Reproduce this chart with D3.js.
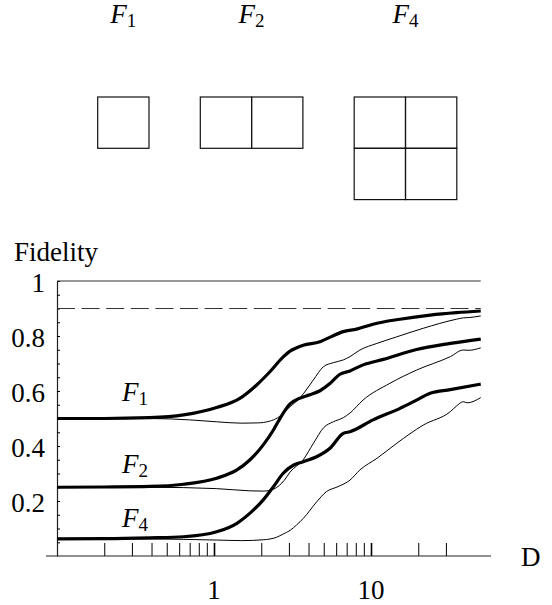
<!DOCTYPE html>
<html>
<head>
<meta charset="utf-8">
<script src="https://cdn.jsdelivr.net/npm/d3@7"></script>
<style>
  body { margin: 0; background: #fff; }
</style>
</head>
<body>
<div id="chart"></div>
<script>
// fidelity vs D, thick = upper curve, thin = lower curve for each block size
var f1Thick = [[0.1,0.5],[0.2,0.5],[0.39,0.503],[0.64,0.513],[1.04,0.54],[1.46,0.573],[1.87,0.622],[2.27,0.67],[2.76,0.724],[3.05,0.745],[3.36,0.757],[3.7,0.766],[4.73,0.779],[5.5,0.796],[6.66,0.816],[8.1,0.825],[10.3,0.843],[15.3,0.861],[23.8,0.876],[35,0.885],[50,0.891]];
var f1Thin = [[0.1,0.5],[0.39,0.5],[0.7,0.495],[1.04,0.488],[1.5,0.483],[1.9,0.484],[2.25,0.49],[2.55,0.503],[3.05,0.543],[3.5,0.573],[3.71,0.59],[4.29,0.64],[4.97,0.688],[5.75,0.703],[6.66,0.713],[7.35,0.725],[8.5,0.749],[10.9,0.773],[14.6,0.797],[21.5,0.828],[35,0.861],[38.7,0.866],[42,0.867],[50,0.873]];
var f2Thick = [[0.1,0.25],[0.2,0.251],[0.39,0.253],[0.64,0.261],[1.04,0.283],[1.4,0.313],[1.69,0.349],[2.06,0.404],[2.39,0.458],[2.57,0.49],[3.05,0.553],[3.5,0.573],[4.0,0.585],[4.7,0.6],[5.5,0.628],[6.3,0.66],[7.35,0.673],[8.9,0.695],[12,0.715],[19.5,0.751],[32,0.773],[50,0.789]];
var f2Thin = [[0.1,0.25],[0.39,0.25],[1.04,0.245],[1.69,0.237],[2.06,0.236],[2.39,0.243],[2.6,0.256],[2.8,0.275],[3.05,0.305],[3.7,0.35],[4.3,0.41],[5.0,0.467],[5.75,0.488],[6.66,0.503],[7.35,0.52],[8.9,0.567],[13.2,0.628],[19.5,0.676],[32,0.725],[38.7,0.749],[42,0.748],[50,0.757]];
var f4Thick = [[0.1,0.0625],[0.2,0.063],[0.39,0.066],[0.64,0.07],[1.04,0.088],[1.4,0.119],[1.69,0.155],[2.06,0.204],[2.39,0.252],[2.76,0.301],[3.2,0.33],[3.7,0.343],[4.5,0.361],[5.48,0.392],[6.66,0.446],[7.35,0.452],[10.3,0.495],[15.3,0.537],[19.5,0.567],[23.8,0.592],[32,0.605],[50,0.625]];
var f4Thin = [[0.1,0.0625],[0.39,0.062],[1.04,0.058],[1.5,0.056],[2.06,0.059],[2.5,0.068],[2.76,0.08],[3.05,0.093],[3.36,0.113],[3.71,0.137],[4.51,0.197],[5.2,0.234],[6.15,0.252],[7.35,0.276],[8.5,0.313],[10.9,0.355],[14.6,0.41],[21.5,0.476],[32,0.525],[35,0.545],[38.7,0.561],[41,0.557],[50,0.576]];

var xTicks = [0.2,0.3,0.4,0.5,0.6,0.7,0.8,0.9,1,2,3,4,5,6,7,8,9,10,20,30];
var xLabels = [1, 10];
var yTicks = d3.range(1, 21).map(function (i) { return i / 20; });
var yLabels = [0.2, 0.4, 0.6, 0.8, 1];
var refLines = [1, 0.9];

// block diagrams on top: subscript, columns, rows
var blockNames = ['1', '2', '4'];
var blockCols = [1, 2, 2];
var blockRows = [1, 1, 2];

var W = 552, H = 605;
var FONT = "'Liberation Serif'";
var svg = d3.select('#chart').append('svg')
  .attr('width', W)
  .attr('height', H);

var x = d3.scaleLog().domain([0.1, 50]).range([57, 57 + Math.log10(500) * 157]);
var y = d3.scaleLinear().domain([0, 1]).range([556, 281]);

function subLabel(px, py, name) {
  var t = svg.append('text')
    .attr('x', px)
    .attr('y', py)
    .attr('text-anchor', 'middle')
    .attr('font-family', FONT)
    .attr('font-size', 27);
  t.append('tspan').attr('font-style', 'italic').text('F');
  t.append('tspan').attr('dy', 4).attr('font-size', 19).text(name);
  return t;
}

// --- block diagrams
var cell = 51.3, bx = 97.7, by = 97;
blockNames.forEach(function (name, i) {
  var g = svg.append('g').attr('transform', 'translate(' + bx + ',' + by + ')');
  for (var r = 0; r < blockRows[i]; r++) {
    for (var c = 0; c < blockCols[i]; c++) {
      g.append('rect')
        .attr('x', c * cell)
        .attr('y', r * cell)
        .attr('width', cell)
        .attr('height', cell)
        .attr('fill', 'none')
        .attr('stroke', '#111')
        .attr('stroke-width', 1.2);
    }
  }
  subLabel(bx + blockCols[i] * cell / 2, 22.7, name);
  bx += (blockCols[i] + 1) * cell;
});

// --- axes
var xAxis = d3.axisTop(x).tickValues(xTicks).tickSize(13).tickFormat('');
var gx = svg.append('g').attr('transform', 'translate(0,556)').call(xAxis);
gx.select('.domain').remove();
gx.selectAll('.tick line')
  .attr('stroke', '#000')
  .attr('stroke-width', function (d) { return (d === 1 || d === 10) ? 1.6 : 1; });

svg.append('line')
  .attr('x1', 46).attr('x2', 491)
  .attr('y1', 556).attr('y2', 556)
  .attr('stroke', '#222').attr('stroke-width', 1.2);

var yAxis = d3.axisRight(y).tickValues(yTicks).tickSize(3).tickSizeOuter(0).tickFormat('');
var gy = svg.append('g').attr('transform', 'translate(57,0)').call(yAxis);
gy.select('.domain').attr('stroke', '#222').attr('stroke-width', 1.2);

svg.selectAll('text.xl')
  .data(xLabels)
  .enter().append('text')
  .attr('class', 'xl')
  .attr('x', function (d) { return x(d); })
  .attr('y', 599)
  .attr('text-anchor', 'middle')
  .attr('font-family', FONT)
  .attr('font-size', 27)
  .text(function (d) { return d; });

svg.selectAll('text.yl')
  .data(yLabels)
  .enter().append('text')
  .attr('class', 'yl')
  .attr('x', 45)
  .attr('y', function (d) { return y(d) + 11; })
  .attr('text-anchor', 'end')
  .attr('font-family', FONT)
  .attr('font-size', 27)
  .text(function (d) { return d; });

svg.append('text').attr('x', 14).attr('y', 260.5)
  .attr('font-family', FONT).attr('font-size', 27).text('Fidelity');
svg.append('text').attr('x', 521).attr('y', 565.5)
  .attr('font-family', FONT).attr('font-size', 27).text('D');

// reference lines (1 solid, 0.9 dashed)
svg.selectAll('line.ref')
  .data(refLines)
  .enter().append('line')
  .attr('class', 'ref')
  .attr('x1', x(0.1)).attr('x2', x(50))
  .attr('y1', function (d) { return y(d); })
  .attr('y2', function (d) { return y(d); })
  .attr('stroke', '#333')
  .attr('stroke-width', 1.1)
  .attr('stroke-dasharray', function (d) { return d === 1 ? null : '18,6.6'; });

// --- curves
var line = d3.line()
  .x(function (d) { return x(d[0]); })
  .y(function (d) { return y(d[1]); })
  .curve(d3.curveMonotoneX);

var curves = [
  { data: f1Thin, w: 1 }, { data: f2Thin, w: 1 }, { data: f4Thin, w: 1 },
  { data: f1Thick, w: 3.2 }, { data: f2Thick, w: 3.2 }, { data: f4Thick, w: 3.2 }
];
svg.selectAll('path.curve')
  .data(curves)
  .enter().append('path')
  .attr('class', 'curve')
  .attr('d', function (d) { return line(d.data); })
  .attr('fill', 'none')
  .attr('stroke', '#000')
  .attr('stroke-width', function (d) { return d.w; })
  .attr('stroke-linejoin', 'round');

// curve labels
var curveNames = ['1', '2', '4'];
var labelBase = [401, 473, 527];
curveNames.forEach(function (name, i) {
  subLabel(135, labelBase[i], name);
});
</script>
</body>
</html>
